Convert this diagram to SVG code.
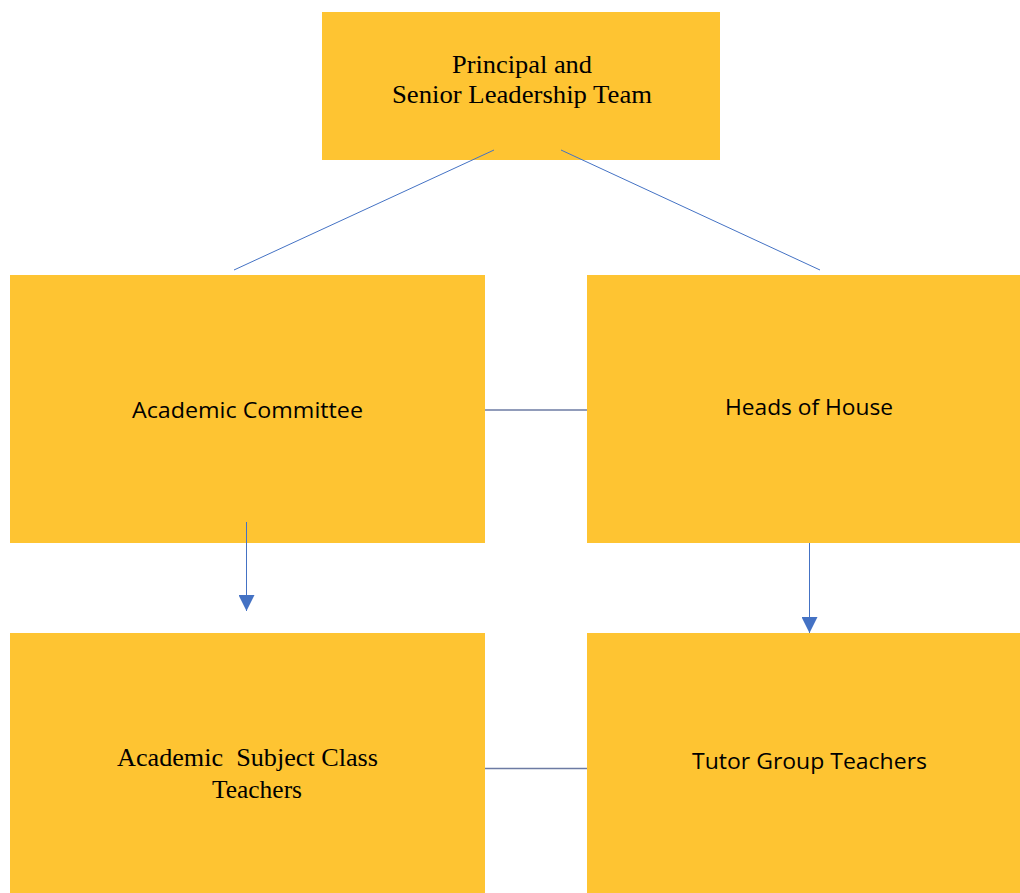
<svg xmlns="http://www.w3.org/2000/svg" width="1020" height="893" viewBox="0 0 1020 893">
<style>
.box{fill:#FEC432;}
.serif{font-family:"Liberation Serif","Times New Roman",serif;font-size:25px;fill:#000;}
.sans{font-family:"Open Sans","Noto Sans",sans-serif;font-size:21px;fill:#000;}
.ln{stroke:#4472C4;stroke-width:1;fill:none;}
.hl{stroke:#6D7BA3;stroke-width:1.6;fill:none;}
</style>
<defs>
<marker id="arr" markerUnits="userSpaceOnUse" markerWidth="16" markerHeight="16" refX="16" refY="8" orient="auto">
<path d="M0,0 L16,8 L0,16 Z" fill="#4472C4"/>
</marker>
</defs>
<rect width="1020" height="893" fill="#fff"/>
<g id="principal">
<rect class="box" x="322" y="12" width="398" height="148"/>
<text class="serif" x="452" y="73" textLength="140" lengthAdjust="spacingAndGlyphs">Principal and</text>
<text class="serif" x="392" y="103" textLength="260" lengthAdjust="spacingAndGlyphs">Senior Leadership Team</text>
</g>
<g id="academic-committee">
<rect class="box" x="10" y="275" width="475" height="268"/>
<text class="sans" x="132" y="418" textLength="231" lengthAdjust="spacingAndGlyphs">Academic Committee</text>
</g>
<g id="heads-of-house">
<rect class="box" x="587" y="275" width="433" height="268"/>
<text class="sans" x="725" y="415" textLength="168" lengthAdjust="spacingAndGlyphs">Heads of House</text>
</g>
<g id="subject-teachers">
<rect class="box" x="10" y="633" width="475" height="260"/>
<text class="serif" x="117" y="766" textLength="261" lengthAdjust="spacingAndGlyphs" xml:space="preserve">Academic  Subject Class</text>
<text class="serif" x="212" y="798" textLength="90" lengthAdjust="spacingAndGlyphs">Teachers</text>
</g>
<g id="tutor-teachers">
<rect class="box" x="587" y="633" width="433" height="260"/>
<text class="sans" x="692" y="769" textLength="235" lengthAdjust="spacingAndGlyphs">Tutor Group Teachers</text>
</g>
<g id="connectors">
<line class="ln" x1="494" y1="150" x2="234" y2="270"/>
<line class="ln" x1="561" y1="150" x2="820" y2="270"/>
<line class="hl" x1="485" y1="410" x2="587" y2="410"/>
<line class="hl" x1="485" y1="768.5" x2="587" y2="768.5"/>
<line class="ln" x1="246.5" y1="522" x2="246.5" y2="611" marker-end="url(#arr)"/>
<line class="ln" x1="809.5" y1="543" x2="809.5" y2="633" marker-end="url(#arr)"/>
</g>
</svg>
